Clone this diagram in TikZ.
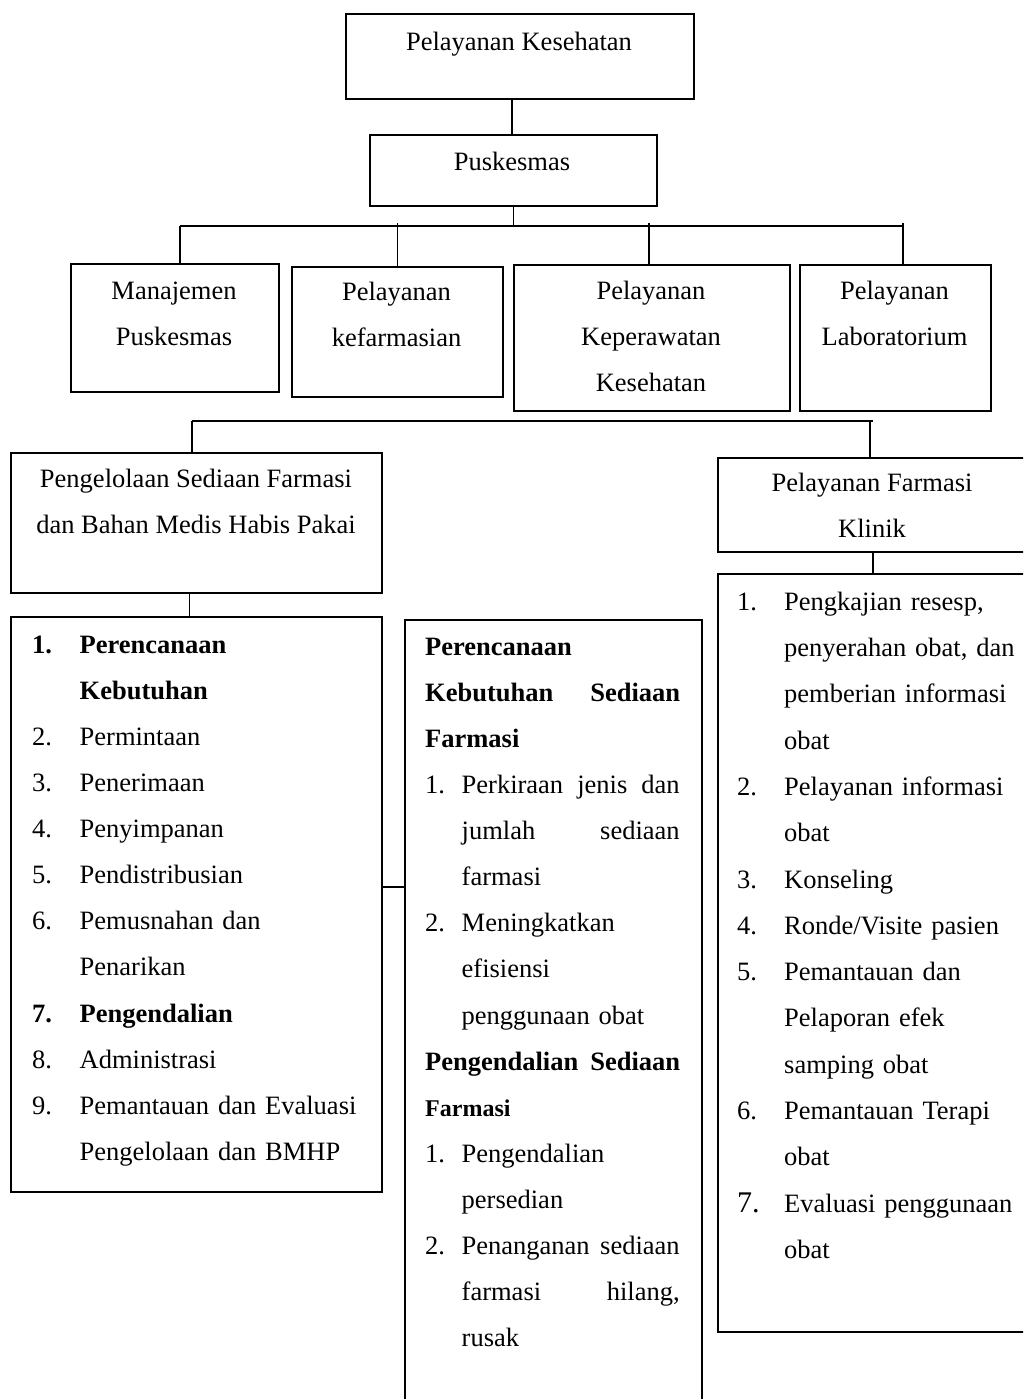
\documentclass[tikz,border=0pt]{standalone}
\usepackage{fontspec}
\setmainfont{Liberation Serif}
\newcommand{\lnum}[2]{\makebox[#1][l]{#2}}
\newcommand{\lind}[1]{\hspace*{#1}}
\newcommand{\jline}[2]{\leavevmode\hbox to #1{#2}}
\begin{document}
\begin{tikzpicture}[x=1pt,y=-1pt,
  ln/.style={line width=1.6pt},
  bx/.style={draw, line width=1.6pt, anchor=north west, inner sep=0pt},
  ctext/.style={anchor=north, inner sep=0pt, align=center, font=\fontsize{26.5pt}{46.2pt}\selectfont},
  ltext/.style={anchor=north west, inner sep=0pt, align=left, font=\fontsize{26.5pt}{46.1pt}\selectfont}]
\useasboundingbox (0,0) rectangle (1023,1399);
\clip (0,0) rectangle (1023,1399);
% boxes
\node[bx, minimum width=348pt, minimum height=85pt] (kes) at (345,13) {};
\node[bx, minimum width=287pt, minimum height=71pt] (pusk) at (369,134) {};
\node[bx, minimum width=208pt, minimum height=128pt] (man) at (70,263) {};
\node[bx, minimum width=211pt, minimum height=130pt] (kef) at (291,266) {};
\node[bx, minimum width=276pt, minimum height=146pt] (kep) at (513,264) {};
\node[bx, minimum width=191pt, minimum height=146pt] (lab) at (799,264) {};
\node[bx, minimum width=371pt, minimum height=140pt] (peng) at (10,452) {};
\node[bx, minimum width=330pt, minimum height=94pt] (klin) at (717,457) {};
\node[bx, minimum width=371pt, minimum height=575pt] (l1) at (10,616) {};
\node[bx, minimum width=297pt, minimum height=820pt] (l2) at (404,619) {};
\node[bx, minimum width=330pt, minimum height=758pt] (l3) at (717,573) {};
% box texts
\node[ctext] (tkes) at (519,30) {\rule{0pt}{20pt}Pelayanan Kesehatan};
\node[ctext] (tpusk) at (512,150) {\rule{0pt}{20pt}Puskesmas};
\node[ctext] (tman) at (174,279) {\rule{0pt}{20pt}Manajemen\\Puskesmas};
\node[ctext] (tkef) at (396.5,280) {\rule{0pt}{20pt}Pelayanan\\kefarmasian};
\node[ctext] (tkep) at (651,279) {\rule{0pt}{20pt}Pelayanan\\Keperawatan\\Kesehatan};
\node[ctext] (tlab) at (894.5,279) {\rule{0pt}{20pt}Pelayanan\\Laboratorium};
\node[ctext] (tpeng) at (196,467) {\rule{0pt}{20pt}Pengelolaan Sediaan Farmasi\\dan Bahan Medis Habis Pakai};
\node[ctext] (tklin) at (872,471) {\rule{0pt}{20pt}Pelayanan Farmasi\\Klinik};
% list 1
\node[ltext, text width=340pt] (tl1) at (32,633) {\rule{0pt}{20pt}\textbf{\lnum{47.5pt}{1.}Perencanaan}\\
\lind{47.5pt}\textbf{Kebutuhan}\\
\lnum{47.5pt}{2.}Permintaan\\
\lnum{47.5pt}{3.}Penerimaan\\
\lnum{47.5pt}{4.}Penyimpanan\\
\lnum{47.5pt}{5.}Pendistribusian\\
\lnum{47.5pt}{6.}Pemusnahan dan\\
\lind{47.5pt}Penarikan\\
\textbf{\lnum{47.5pt}{7.}Pengendalian}\\
\lnum{47.5pt}{8.}Administrasi\\
\lnum{47.5pt}{9.}Pemantauan dan Evaluasi\\
\lind{47.5pt}Pengelolaan dan BMHP};
% list 2
\node[ltext, text width=262pt] (tl2) at (425,635) {\rule{0pt}{20pt}\textbf{Perencanaan}\\
\jline{255pt}{\textbf{Kebutuhan}\hfill\textbf{Sediaan}}\\
\textbf{Farmasi}\\
\lnum{36.5pt}{1.}\hbox to 218pt{Perkiraan\hfill jenis\hfill dan}\\
\lind{36.5pt}\hbox to 218pt{jumlah\hfill sediaan}\\
\lind{36.5pt}farmasi\\
\lnum{36.5pt}{2.}Meningkatkan\\
\lind{36.5pt}efisiensi\\
\lind{36.5pt}penggunaan obat\\
\jline{255pt}{\textbf{Pengendalian}\hfill\textbf{Sediaan}}\\
{\fontsize{24pt}{46.1pt}\selectfont\textbf{Farmasi}}\\
\lnum{36.5pt}{1.}Pengendalian\\
\lind{36.5pt}persedian\\
\lnum{36.5pt}{2.}\hbox to 218pt{Penanganan\hfill sediaan}\\
\lind{36.5pt}\hbox to 218pt{farmasi\hfill hilang,}\\
\lind{36.5pt}rusak};
% list 3
\node[ltext, text width=285pt, font=\fontsize{26.5pt}{46.3pt}\selectfont] (tl3) at (737,590) {\rule{0pt}{20pt}\lnum{47pt}{1.}Pengkajian resesp,\\
\lind{47pt}penyerahan obat, dan\\
\lind{47pt}pemberian informasi\\
\lind{47pt}obat\\
\lnum{47pt}{2.}Pelayanan informasi\\
\lind{47pt}obat\\
\lnum{47pt}{3.}Konseling\\
\lnum{47pt}{4.}Ronde/Visite pasien\\
\lnum{47pt}{5.}Pemantauan dan\\
\lind{47pt}Pelaporan efek\\
\lind{47pt}samping obat\\
\lnum{47pt}{6.}Pemantauan Terapi\\
\lind{47pt}obat\\
\lnum{47pt}{{\fontsize{30pt}{46.3pt}\selectfont 7.}}Evaluasi penggunaan\\
\lind{47pt}obat};
% connectors
\draw[ln] ([xshift=-8pt]kes.south) -- ([xshift=-8pt]kes.south |- pusk.north);
\coordinate (busL) at (180,226);
\coordinate (busR) at (903,226);
\draw[ln] (pusk.south) -- (pusk.south |- busL);
\draw[ln] (busL) -- (busR);
\draw[ln] (busL) -- (busL |- man.north);
\draw[ln] ([yshift=3pt]busL -| kef.north) -- (kef.north);
\draw[ln] ([xshift=-3pt,yshift=3pt]busL -| kep.north) -- ([xshift=-3pt]kep.north);
\draw[ln] ([yshift=3pt]busR) -- (busR |- lab.north);
\coordinate (b2L) at (192,421);
\coordinate (b2R) at (870,421);
\draw[ln] (b2L) -- ([xshift=3pt]b2R);
\draw[ln] (b2L) -- (b2L |- peng.north);
\draw[ln] (b2R) -- (b2R |- klin.north);
\draw[ln] ([xshift=-7pt]peng.south) -- ([xshift=-7pt]peng.south |- l1.north);
\coordinate (m12) at (381,887);
\draw[ln] (m12) -- (m12 -| l2.west);
\coordinate (kc) at (873,551);
\draw[ln] (kc) -- (kc |- l3.north);
\end{tikzpicture}
\end{document}
